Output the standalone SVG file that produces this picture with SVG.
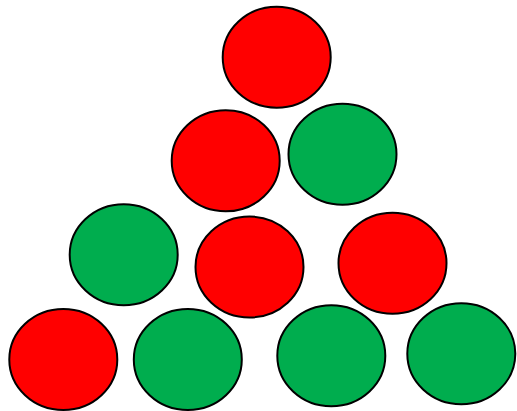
<svg xmlns="http://www.w3.org/2000/svg" width="517" height="411" viewBox="0 0 517 411">
<style>
ellipse{stroke:#000;stroke-width:2}
.r{fill:#ff0000}
.g{fill:#00ad4e}
</style>
<rect width="517" height="411" fill="#fff"/>
<g id="n1"><ellipse class="r" cx="276.7" cy="57.2" rx="54" ry="50.5"/></g>
<g id="n2"><ellipse class="r" cx="225.7" cy="160.8" rx="54" ry="50.5"/></g>
<g id="n3"><ellipse class="g" cx="342.5" cy="154.3" rx="54" ry="50.5"/></g>
<g id="n4"><ellipse class="g" cx="123.7" cy="254.8" rx="54" ry="50.5"/></g>
<g id="n5"><ellipse class="r" cx="249.5" cy="267" rx="54" ry="50.5"/></g>
<g id="n6"><ellipse class="r" cx="392.5" cy="263.2" rx="54" ry="50.5"/></g>
<g id="n7"><ellipse class="r" cx="63.3" cy="359.5" rx="54" ry="50.5"/></g>
<g id="n8"><ellipse class="g" cx="187.8" cy="359.5" rx="54" ry="50.5"/></g>
<g id="n9"><ellipse class="g" cx="331.3" cy="355.8" rx="54" ry="50.5"/></g>
<g id="n10"><ellipse class="g" cx="461.3" cy="353.8" rx="54" ry="50.5"/></g>
<g id="connectors"></g>
</svg>
